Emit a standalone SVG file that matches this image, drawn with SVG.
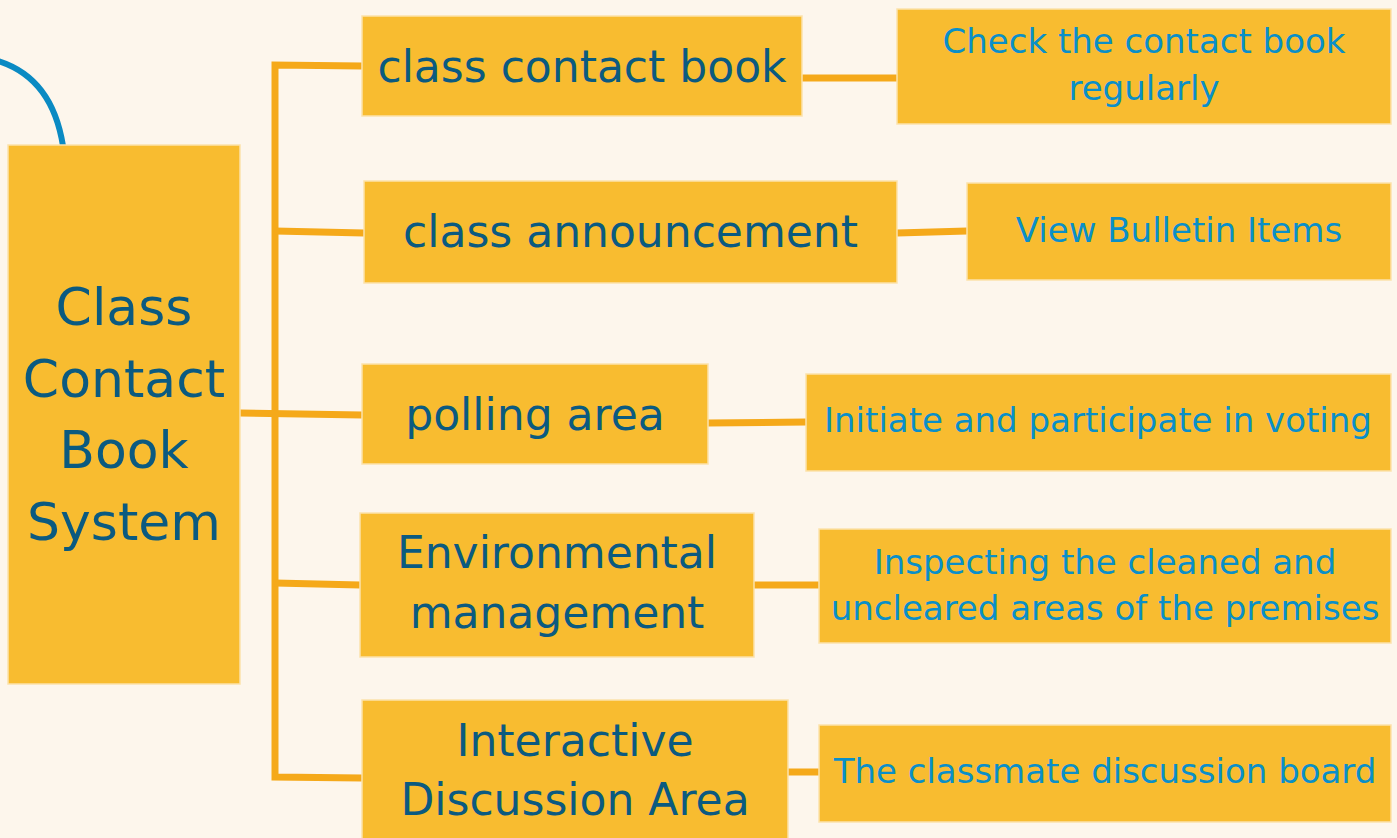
<svg xmlns="http://www.w3.org/2000/svg" width="1397" height="838" viewBox="0 0 1397 838">
<style>
.box{fill:#f8bc30;stroke:#fce2aa;stroke-width:1.5}
.main{font-family:"DejaVu Sans","Noto Sans",sans-serif;fill:#0b5a80;text-anchor:middle}
.sub{font-family:"DejaVu Sans","Noto Sans",sans-serif;fill:#0a8fc8;text-anchor:middle;font-size:34px}
.ln{fill:none;stroke:#f5a91a;stroke-width:7}
</style>
<rect width="1397" height="838" fill="#fdf6ec"/>
<g id="connectors">
<path d="M-5,60 Q52,76 63,146" fill="none" stroke="#0a8ac3" stroke-width="6"/>
<path class="ln" d="M362,66 L275,65 L275,777 L362,778"/>
<path class="ln" d="M275,231 L364,233"/>
<path class="ln" d="M240,413 L362,415"/>
<path class="ln" d="M275,583 L360,585"/>
<path class="ln" d="M802,78 L897,78"/>
<path class="ln" d="M897,233 L967,231"/>
<path class="ln" d="M708,423 L806,422"/>
<path class="ln" d="M754,585 L819,585"/>
<path class="ln" d="M788,772 L819,772"/>
</g>
<g id="root">
<rect class="box" x="8" y="145" width="232" height="539"/>
<text class="main" font-size="52"><tspan x="124" y="325">Class</tspan><tspan x="124" y="397">Contact</tspan><tspan x="124" y="468">Book</tspan><tspan x="124" y="540">System</tspan></text>
</g>
<g id="n-contact-book">
<rect class="box" x="362" y="16" width="440" height="100"/>
<text class="main" font-size="44" x="582" y="82">class contact book</text>
</g>
<g id="n-announcement">
<rect class="box" x="364" y="181" width="533" height="102"/>
<text class="main" font-size="44" x="630.5" y="247">class announcement</text>
</g>
<g id="n-polling">
<rect class="box" x="362" y="364" width="346" height="100"/>
<text class="main" font-size="44" x="535" y="430">polling area</text>
</g>
<g id="n-environment">
<rect class="box" x="360" y="513" width="394" height="144"/>
<text class="main" font-size="44"><tspan x="557" y="568">Environmental</tspan><tspan x="557" y="628">management</tspan></text>
</g>
<g id="n-interactive">
<rect class="box" x="362" y="700" width="426" height="145"/>
<text class="main" font-size="44"><tspan x="575" y="756">Interactive</tspan><tspan x="575" y="815">Discussion Area</tspan></text>
</g>
<g id="s-check">
<rect class="box" x="897" y="9" width="494" height="115"/>
<text class="sub"><tspan x="1144" y="53">Check the contact book</tspan><tspan x="1144" y="100">regularly</tspan></text>
</g>
<g id="s-bulletin">
<rect class="box" x="967" y="183" width="424" height="97"/>
<text class="sub" x="1179" y="242">View Bulletin Items</text>
</g>
<g id="s-voting">
<rect class="box" x="806" y="374" width="585" height="97"/>
<text class="sub" x="1098" y="432">Initiate and participate in voting</text>
</g>
<g id="s-inspecting">
<rect class="box" x="819" y="529" width="572" height="114"/>
<text class="sub"><tspan x="1105" y="574">Inspecting the cleaned and</tspan><tspan x="1105" y="620">uncleared areas of the premises</tspan></text>
</g>
<g id="s-discussion">
<rect class="box" x="819" y="725" width="572" height="97"/>
<text class="sub" x="1105" y="783">The classmate discussion board</text>
</g>
</svg>
